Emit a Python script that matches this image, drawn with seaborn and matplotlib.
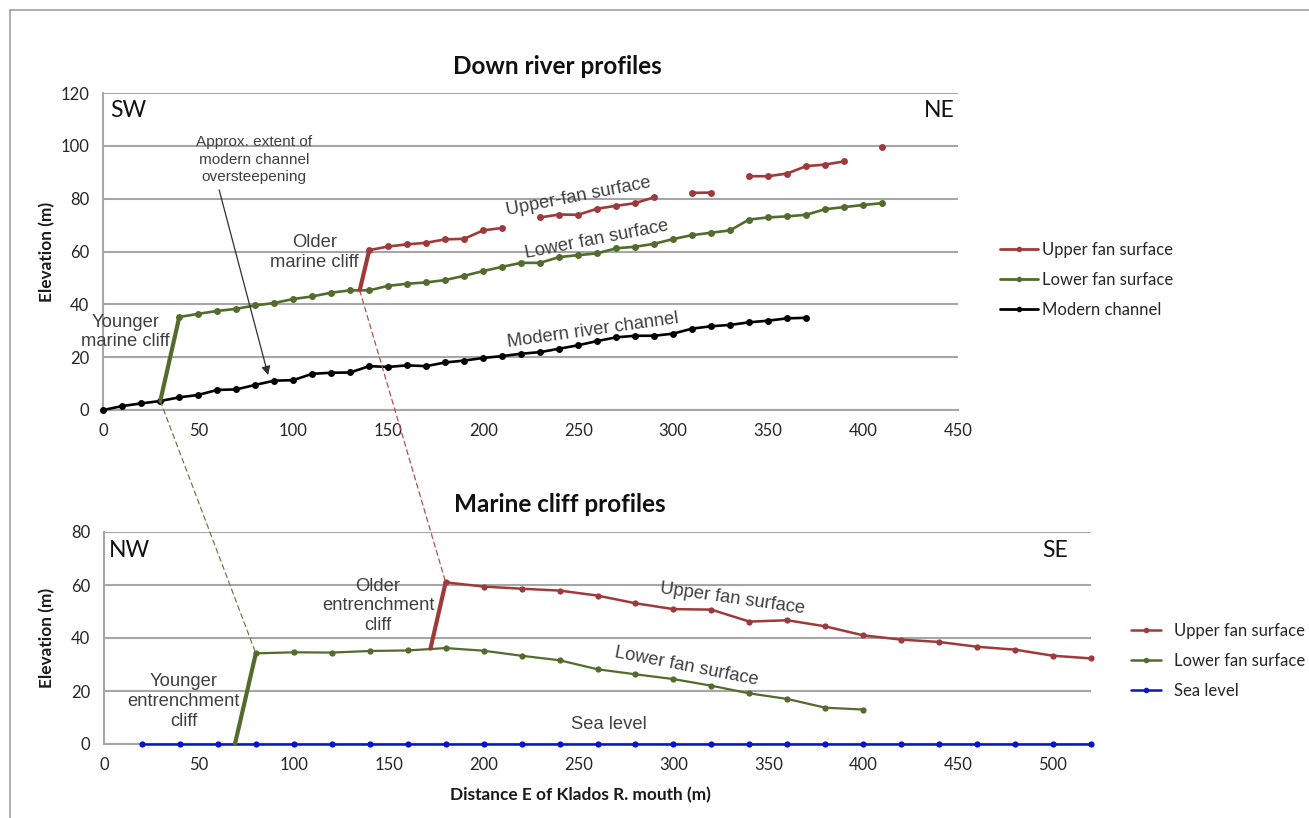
import numpy as np
import pandas as pd
import matplotlib
matplotlib.use("Agg")
import matplotlib.pyplot as plt
from matplotlib.lines import Line2D
from matplotlib.patches import ConnectionPatch
import seaborn as sns

# ---------------- Down river profiles (distance in m, elevation in m) ----------------
channel_dist = [0, 10, 20, 30, 40, 50, 60, 70, 80, 90, 100, 110, 120, 130, 140, 150, 160,
                170, 180, 190, 200, 210, 220, 230, 240, 250, 260, 270, 280, 290, 300, 310,
                320, 330, 340, 350, 360, 370]
channel_elev = [0, 1.5, 2.5, 3.4, 4.8, 5.7, 7.6, 7.8, 9.5, 11.1, 11.3, 13.7, 14.1, 14.2, 16.6,
                16.3, 16.9, 16.6, 18.0, 18.7, 19.7, 20.4, 21.3, 21.9, 23.2, 24.5, 26.1, 27.5,
                28.1, 28.1, 28.9, 30.8, 31.7, 32.2, 33.2, 33.8, 34.7, 34.9]

lower_dist = [40, 50, 60, 70, 80, 90, 100, 110, 120, 130, 140, 150, 160, 170, 180, 190, 200,
              210, 220, 230, 240, 250, 260, 270, 280, 290, 300, 310, 320, 330, 340, 350, 360,
              370, 380, 390, 400, 410]
lower_elev = [35.2, 36.4, 37.5, 38.3, 39.6, 40.5, 42.0, 43.0, 44.4, 45.3, 45.3, 47.0, 47.8,
              48.3, 49.2, 50.8, 52.6, 54.2, 55.7, 55.7, 57.9, 58.6, 59.3, 61.2, 61.8, 62.9,
              64.7, 66.2, 67.1, 68.0, 72.1, 72.9, 73.3, 73.9, 76.0, 76.8, 77.6, 78.3]

# gaps (NaN) where the upper surface is not preserved
upper_dist = [140, 150, 160, 170, 180, 190, 200, 210, 220, 230, 240, 250, 260, 270, 280, 290,
              300, 310, 320, 330, 340, 350, 360, 370, 380, 390, 400, 410]
upper_elev = [60.5, 61.9, 62.7, 63.3, 64.6, 64.8, 68.0, 68.9, np.nan, 72.9, 74.0, 73.9, 76.2,
              77.3, 78.3, 80.5, np.nan, 82.2, 82.3, np.nan, 88.5, 88.5, 89.5, 92.3, 92.9, 94.1,
              np.nan, 99.6]

young_marine_cliff_dist = [30, 40]
young_marine_cliff_elev = [3.4, 35.2]
old_marine_cliff_dist = [135, 140]
old_marine_cliff_elev = [45.3, 60.5]

# ---------------- Marine cliff profiles ----------------
sea_dist = [20, 40, 60, 80, 100, 120, 140, 160, 180, 200, 220, 240, 260, 280, 300, 320, 340,
            360, 380, 400, 420, 440, 460, 480, 500, 520]
sea_elev = [0] * len(sea_dist)

mlower_dist = [80, 100, 120, 140, 160, 180, 200, 220, 240, 260, 280, 300, 320, 340, 360, 380, 400]
mlower_elev = [34.2, 34.6, 34.5, 35.1, 35.3, 36.2, 35.2, 33.3, 31.6, 28.2, 26.3, 24.5, 22.0,
               19.1, 17.0, 13.7, 13.0]

mupper_dist = [180, 200, 220, 240, 260, 280, 300, 320, 340, 360, 380, 400, 420, 440, 460, 480,
               500, 520]
mupper_elev = [61.0, 59.4, 58.6, 57.9, 56.0, 53.1, 50.9, 50.7, 46.2, 46.7, 44.4, 41.0, 39.4,
               38.5, 36.7, 35.6, 33.3, 32.3]

young_entr_cliff_dist = [69, 80]
young_entr_cliff_elev = [0, 34.2]
old_entr_cliff_dist = [172, 180]
old_entr_cliff_elev = [36.0, 61.0]

RED = "#9E3A3B"
GREEN = "#536B2C"
BLACK = "#000000"
BLUE = "#0A14C8"
GRID = "#A6A6A6"
NOTE = "#404040"

sns.set_theme(style="white")
plt.rcParams["font.family"] = ["Lato", "DejaVu Sans"]

W, H = 1309, 818
fig = plt.figure(figsize=(W / 100, H / 100), dpi=100)


def fx(px):
    return px / W


def fy(py):
    return 1 - py / H


ax1 = fig.add_axes([fx(103.3), fy(410), fx(958) - fx(103.3), fy(93) - fy(410)])
ax2 = fig.add_axes([fx(104), fy(744), fx(1091) - fx(104), fy(532) - fy(744)])


def segments(dist, elev):
    df = pd.DataFrame({"dist": dist, "elev": elev})
    df["seg"] = df["elev"].isna().cumsum()
    return df.dropna()


def profile(ax, dist, elev, color, lw, ms):
    df = segments(dist, elev)
    sns.lineplot(data=df, x="dist", y="elev", units="seg", estimator=None, ax=ax,
                 color=color, lw=lw, marker="o", markersize=ms, markeredgewidth=0,
                 markeredgecolor=color, legend=False, clip_on=False, zorder=3)


def cliff(ax, dist, elev, color, lw):
    sns.lineplot(x=dist, y=elev, ax=ax, color=color, lw=lw, estimator=None,
                 legend=False, clip_on=False, zorder=3)


# top panel
profile(ax1, channel_dist, channel_elev, BLACK, 1.9, 5)
profile(ax1, lower_dist, lower_elev, GREEN, 1.9, 5)
profile(ax1, upper_dist, upper_elev, RED, 1.9, 5)
cliff(ax1, young_marine_cliff_dist, young_marine_cliff_elev, GREEN, 3.0)
cliff(ax1, old_marine_cliff_dist, old_marine_cliff_elev, RED, 3.0)

# bottom panel
profile(ax2, sea_dist, sea_elev, BLUE, 1.8, 4.5)
profile(ax2, mlower_dist, mlower_elev, GREEN, 1.6, 4.5)
profile(ax2, mupper_dist, mupper_elev, RED, 1.8, 4.5)
cliff(ax2, young_entr_cliff_dist, young_entr_cliff_elev, GREEN, 3.0)
cliff(ax2, old_entr_cliff_dist, old_entr_cliff_elev, RED, 3.0)

for ax in (ax1, ax2):
    ax.yaxis.grid(True, color=GRID, lw=1.5)
    ax.xaxis.grid(False)
    ax.set_axisbelow(True)
    for s in ("top", "right"):
        ax.spines[s].set_visible(False)
    for s in ("left", "bottom"):
        ax.spines[s].set_color(GRID)
        ax.spines[s].set_linewidth(1.5)
    ax.tick_params(axis="both", direction="out", length=5, width=1.2, color=GRID,
                   labelsize=12, labelcolor="#262626", pad=4)
    ax.tick_params(axis="y", pad=5)
    ax.set_ylabel("Elevation (m)", fontsize=12.4, fontweight="bold", color="#1a1a1a")
    ax.set_xlabel("")

ax1.set_xlim(0, 450)
ax1.set_ylim(0, 120)
ax1.set_xticks(np.arange(0, 451, 50))
ax1.set_yticks(np.arange(0, 121, 20))
ax1.yaxis.set_label_coords((55 - 103.3) / 855, 0.5)

ax2.set_xlim(0, 520)
ax2.set_ylim(0, 80)
ax2.set_xticks(np.arange(0, 501, 50))
ax2.set_yticks(np.arange(0, 81, 20))
ax2.yaxis.set_label_coords((55 - 104) / 987, 0.5)
ax2.set_xlabel("Distance E of Klados R. mouth (m)", fontsize=12.4, fontweight="bold",
               color="#1a1a1a")
ax2.xaxis.set_label_coords((580.5 - 104) / 987, -0.205)

fig.text(fx(557), fy(67), "Down river profiles", ha="center", va="center",
         fontsize=17.5, fontweight="bold", color="#111111")
fig.text(fx(560), fy(504), "Marine cliff profiles", ha="center", va="center",
         fontsize=17.5, fontweight="bold", color="#111111")

# compass labels
ax1.text(3.5, 113.3, "SW", ha="left", va="center", fontsize=16.5, color="#111111")
ax1.text(448, 113.3, "NE", ha="right", va="center", fontsize=16.5, color="#111111")
ax2.text(2.8, 73.0, "NW", ha="left", va="center", fontsize=16.5, color="#111111")
ax2.text(508, 73.2, "SE", ha="right", va="center", fontsize=16.5, color="#111111")

note = dict(family=["Liberation Sans", "DejaVu Sans"], color=NOTE, fontsize=13.2,
            ha="center", va="center")
ax1.text(11.5, 29.5, "Younger\nmarine cliff", **note)
ax1.text(111, 59.6, "Older\nmarine cliff", **note)
ax1.text(250.5, 80.8, "Upper-fan surface", rotation=11, **note)
ax1.text(260, 64.4, "Lower fan surface", rotation=11, **note)
ax1.text(258, 30.0, "Modern river channel", rotation=8, **note)
ax1.text(79.5, 94.8, "Approx. extent of\nmodern channel\noversteepening",
         family=["Liberation Sans", "DejaVu Sans"], color=NOTE, fontsize=11.1,
         ha="center", va="center", linespacing=1.3)
ax1.annotate("", xy=(86.8, 13.2), xytext=(61, 83.3),
             arrowprops=dict(arrowstyle="-|>", color="#303030", lw=0.9,
                             mutation_scale=13, shrinkA=0, shrinkB=0))

ax2.text(42.1, 16.0, "Younger\nentrenchment\ncliff", **note)
ax2.text(144.4, 52.1, "Older\nentrenchment\ncliff", **note)
ax2.text(331, 55.0, "Upper fan surface", rotation=-8, **note)
ax2.text(307, 29.2, "Lower fan surface", rotation=-11, **note)
ax2.text(265.8, 7.4, "Sea level", **note)

# dashed tie lines between the two profiles
for (xa, ya), (xb, yb), col in (((30, 3.4), (80, 34.2), "#6E7E40"),
                                ((135, 45.3), (180, 61.0), "#B24F4F")):
    con = ConnectionPatch(xyA=(xa, ya), coordsA=ax1.transData,
                          xyB=(xb, yb), coordsB=ax2.transData,
                          color=col, lw=0.9, linestyle=(0, (4, 3)), zorder=2)
    fig.add_artist(con)

# legends
def handle(color, lw, ms):
    return Line2D([], [], color=color, lw=lw, marker="o", markersize=ms,
                  markeredgewidth=0)


fig.legend([handle(RED, 2.0, 4), handle(GREEN, 2.0, 4), handle(BLACK, 2.0, 4)],
           ["Upper fan surface", "Lower fan surface", "Modern channel"],
           loc="center left", bbox_to_anchor=(fx(1000), fy(280)), frameon=False,
           fontsize=12, handlelength=2.3, handletextpad=0.2, labelspacing=0.85,
           borderpad=0, borderaxespad=0)
fig.legend([handle(RED, 1.8, 4), handle(GREEN, 1.8, 4), handle(BLUE, 1.8, 4)],
           ["Upper fan surface", "Lower fan surface", "Sea level"],
           loc="center left", bbox_to_anchor=(fx(1131), fy(661)), frameon=False,
           fontsize=12, handlelength=1.8, handletextpad=0.75, labelspacing=0.85,
           borderpad=0, borderaxespad=0)

# thin frame along the top and left edge
fig.add_artist(Line2D([fx(10), 1], [fy(10), fy(10)], transform=fig.transFigure,
                      color="#A0A0A0", lw=1.2))
fig.add_artist(Line2D([fx(10), fx(10)], [0, fy(10)], transform=fig.transFigure,
                      color="#A0A0A0", lw=1.2))

fig.savefig("out.png", dpi=100, facecolor="white")
